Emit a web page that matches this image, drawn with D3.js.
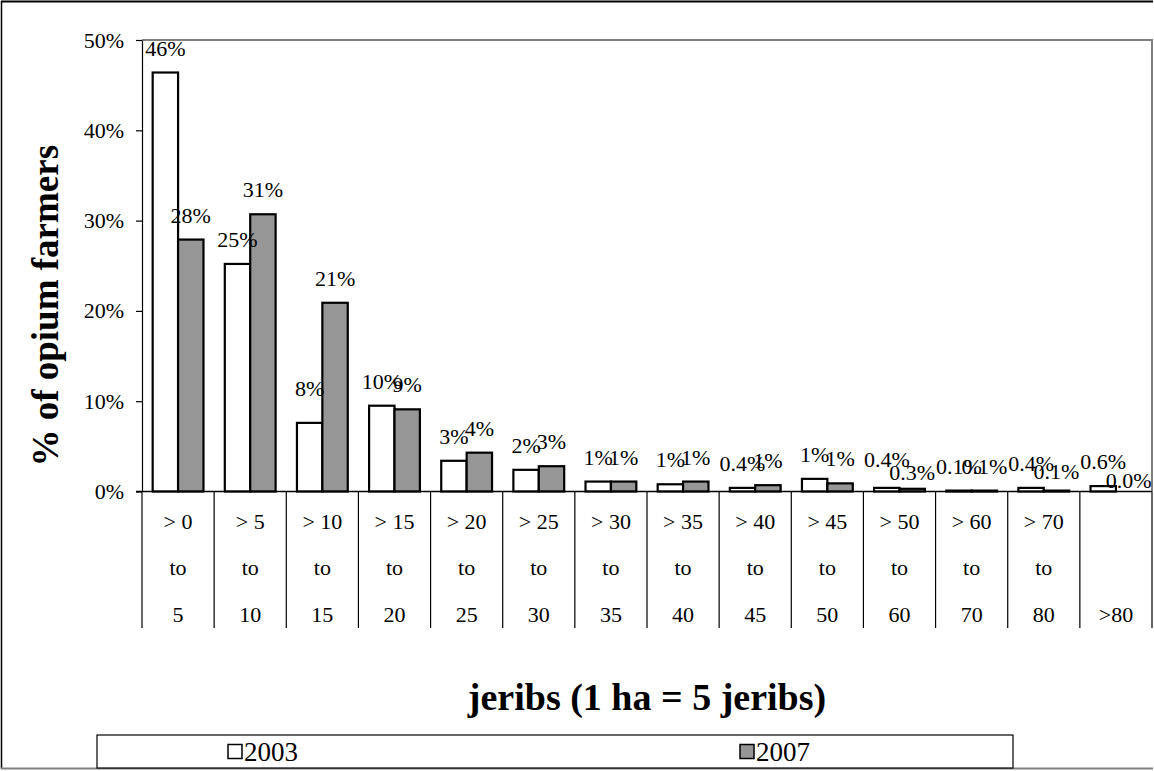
<!DOCTYPE html>
<html>
<head>
<meta charset="utf-8">
<script src="https://cdn.jsdelivr.net/npm/d3@7"></script>
<style>
  html, body { margin: 0; padding: 0; background: #fff; }
  svg { display: block; }
  text { font-family: "Liberation Serif", "Times New Roman", serif; fill: #000; }
</style>
</head>
<body>
<svg id="chart" width="1154" height="771"></svg>
<script>
// Farm size classes (jeribs), one row of text per line under the axis
const categoryLines = [
  ["> 0", "to", "5"], ["> 5", "to", "10"], ["> 10", "to", "15"], ["> 15", "to", "20"],
  ["> 20", "to", "25"], ["> 25", "to", "30"], ["> 30", "to", "35"], ["> 35", "to", "40"],
  ["> 40", "to", "45"], ["> 45", "to", "50"], ["> 50", "to", "60"], ["> 60", "to", "70"],
  ["> 70", "to", "80"], ["", "", ">80"]
];
const seriesNames = ["2003", "2007"];
// Share of opium farmers (%) in each size class
const values2003 = [46.4, 25.2, 7.6, 9.5, 3.4, 2.4, 1.1, 0.8, 0.4, 1.4, 0.4, 0.1, 0.4, 0.6];
const values2007 = [27.9, 30.7, 20.9, 9.1, 4.3, 2.8, 1.1, 1.1, 0.7, 0.9, 0.3, 0.1, 0.1, 0.0];
const yTicks = [0, 10, 20, 30, 40, 50];

// Hand-placed vertical nudges (px) for crowded value labels
const labelNudge2003 = [0, 0, -10, 0, 0, 0, 0, 0, 0, 0, -4, 0, 0, 0];
const labelNudge2007 = [0, 0, 0, 0, 0, 0, 0, 0, 0, 0, 8, 0, 5, 13];

const fills = { "2003": "#ffffff", "2007": "#969696" };

const svg = d3.select("#chart");
const W = 1154, H = 771;
const plot = { left: 142, right: 1152, top: 40, bottom: 491.5 };

// outer frame
svg.append("line").attr("x1", 1).attr("x2", W - 1).attr("y1", 1.5).attr("y2", 1.5)
  .attr("stroke", "#000").attr("stroke-width", 2);
svg.append("line").attr("x1", 1.5).attr("x2", 1.5).attr("y1", 1).attr("y2", H - 2)
  .attr("stroke", "#000").attr("stroke-width", 1.5);
svg.append("line").attr("x1", 1).attr("x2", W - 1).attr("y1", H - 2.5).attr("y2", H - 2.5)
  .attr("stroke", "#808080").attr("stroke-width", 2);

const idx = d3.range(categoryLines.length);
const x0 = d3.scaleBand().domain(idx).range([plot.left, plot.right]).paddingInner(0).paddingOuter(0);
const x1 = d3.scaleBand().domain(seriesNames).range([0, x0.bandwidth()]).paddingInner(0).paddingOuter(0.42);
const y = d3.scaleLinear().domain([0, 50]).range([plot.bottom, plot.top]);

// plot area border (top and right)
svg.append("path")
  .attr("d", `M${plot.left},${plot.top}H${plot.right}V${plot.bottom}`)
  .attr("fill", "none").attr("stroke", "#808080").attr("stroke-width", 2);

// y axis
const yAxis = svg.append("g")
  .attr("transform", `translate(${plot.left},0)`)
  .call(d3.axisLeft(y).tickValues(yTicks).tickSize(6).tickSizeOuter(0).tickPadding(12)
    .tickFormat(d => d + "%"));
yAxis.select(".domain").attr("stroke", "#000").attr("stroke-width", 1.2);
yAxis.selectAll(".tick line").attr("stroke", "#000").attr("stroke-width", 1.2);
yAxis.selectAll(".tick text")
  .style("font-family", "'Liberation Serif', serif").style("font-size", "22px").attr("fill", "#000");

// category separators below the axis
svg.append("g").selectAll("line")
  .data(d3.range(categoryLines.length + 1))
  .join("line")
  .attr("x1", i => plot.left + i * x0.step())
  .attr("x2", i => plot.left + i * x0.step())
  .attr("y1", plot.bottom).attr("y2", 628)
  .attr("stroke", "#000").attr("stroke-width", 1.2);

// category labels
const rowY = [529, 575, 622];
const catG = svg.append("g").selectAll("g").data(idx).join("g")
  .attr("transform", i => `translate(${x0(i) + x0.bandwidth() / 2},0)`);
catG.selectAll("text").data(i => categoryLines[i]).join("text")
  .attr("y", (d, j) => rowY[j])
  .attr("text-anchor", "middle")
  .style("font-size", "22px")
  .text(d => d);

// bars
const rows = idx.map(i => ({
  i,
  items: [
    { s: "2003", v: values2003[i], nudge: labelNudge2003[i] },
    { s: "2007", v: values2007[i], nudge: labelNudge2007[i] }
  ]
}));
const groups = svg.append("g").selectAll("g").data(rows).join("g")
  .attr("transform", d => `translate(${x0(d.i)},0)`);
groups.selectAll("rect").data(d => d.items).join("rect")
  .attr("x", d => x1(d.s))
  .attr("y", d => y(d.v))
  .attr("width", x1.bandwidth())
  .attr("height", d => y(0) - y(d.v))
  .attr("fill", d => fills[d.s])
  .attr("stroke", "#000").attr("stroke-width", 2.2);

// x axis line
svg.append("line").attr("x1", plot.left - 6).attr("x2", plot.right)
  .attr("y1", plot.bottom).attr("y2", plot.bottom)
  .attr("stroke", "#000").attr("stroke-width", 1.5);

// value labels
const fmt = v => (v < 0.65 ? v.toFixed(1) : d3.format(".0f")(v)) + "%";
groups.selectAll("text.val").data(d => d.items).join("text")
  .attr("class", "val")
  .attr("x", d => x1(d.s) + x1.bandwidth() / 2)
  .attr("y", d => y(d.v) - 17 + d.nudge)
  .attr("text-anchor", "middle")
  .style("font-size", "22px")
  .text(d => fmt(d.v));

// axis titles
svg.append("text")
  .attr("transform", `translate(58,${(plot.top + plot.bottom) / 2 + 40}) rotate(-90)`)
  .attr("text-anchor", "middle")
  .style("font-size", "37px").style("font-weight", "bold")
  .text("% of opium farmers");

svg.append("text")
  .attr("x", (plot.left + plot.right) / 2).attr("y", 710)
  .attr("text-anchor", "middle")
  .style("font-size", "38px").style("font-weight", "bold")
  .text("jeribs (1 ha = 5 jeribs)");

// legend
const leg = { x: 97, y: 735, w: 916, h: 33 };
svg.append("rect").attr("x", leg.x).attr("y", leg.y).attr("width", leg.w).attr("height", leg.h)
  .attr("fill", "#fff").attr("stroke", "#000").attr("stroke-width", 1.2);
const legX = d3.scalePoint().domain(seriesNames).range([228, 740]);
const li = svg.append("g").selectAll("g").data(seriesNames).join("g")
  .attr("transform", s => `translate(${legX(s)},${leg.y + leg.h / 2})`);
li.append("rect").attr("x", 0).attr("y", -7).attr("width", 14).attr("height", 14)
  .attr("fill", s => fills[s]).attr("stroke", "#000").attr("stroke-width", 1.5);
li.append("text").attr("x", 16).attr("y", 9).style("font-size", "27px").text(s => s);
</script>
</body>
</html>
